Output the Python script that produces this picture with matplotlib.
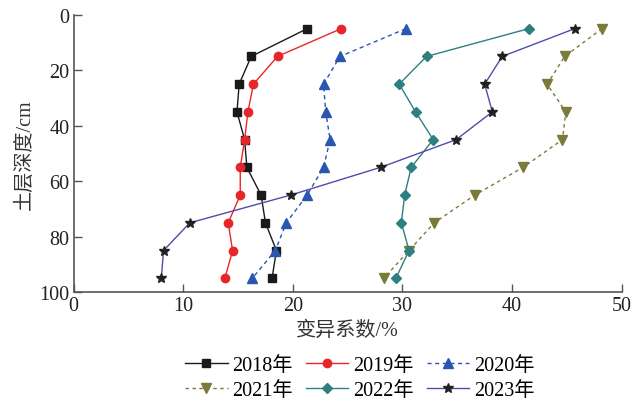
import matplotlib
matplotlib.use("Agg")
import matplotlib.pyplot as plt

plt.rcParams['font.family'] = ['Liberation Serif', 'Noto Sans CJK SC']
plt.rcParams['mathtext.fontset'] = 'stix'

depth = [5, 15, 25, 35, 45, 55, 65, 75, 85, 95]
cv_2018 = [21.3, 16.2, 15.1, 14.9, 15.6, 15.8, 17.1, 17.5, 18.5, 18.1]
cv_2019 = [24.4, 18.6, 16.4, 15.9, 15.6, 15.2, 15.2, 14.1, 14.5, 13.8]
cv_2020 = [30.3, 24.3, 22.8, 23.0, 23.4, 22.8, 21.3, 19.4, 18.4, 16.3]
cv_2021 = [48.2, 44.8, 43.2, 44.9, 44.6, 41.0, 36.6, 32.9, 30.6, 28.3]
cv_2022 = [41.5, 32.2, 29.7, 31.2, 32.8, 30.8, 30.2, 29.9, 30.6, 29.4]
cv_2023 = [45.7, 39.1, 37.5, 38.2, 34.9, 28.0, 19.8, 10.6, 8.2, 8.0]
labels = ['2018年', '2019年', '2020年', '2021年', '2022年', '2023年']
xticks = [0, 10, 20, 30, 40, 50]
yticks = [0, 20, 40, 60, 80, 100]

fig = plt.figure(figsize=(6.35, 4.06), dpi=100)
ax = fig.add_axes([0.116, 0.278, 0.863, 0.683])

fs = 14.5
h = []
h += ax.plot(cv_2018, depth, '-', color='#1a1a1a', marker='s', ms=5.5, lw=1.0, label=labels[0])
h += ax.plot(cv_2019, depth, '-', color='#e8262a', marker='o', ms=6, lw=1.0, label=labels[1])
h += ax.plot(cv_2020, depth, '--', color='#2a56b0', marker='^', ms=6.5, lw=1.0, label=labels[2], dashes=(3, 2.5))
h += ax.plot(cv_2021, depth, '--', color='#7a7a3a', marker='v', ms=6.5, lw=1.0, label=labels[3], dashes=(2.5, 2.5))
h += ax.plot(cv_2022, depth, '-', color='#2e8080', marker='D', ms=5, lw=1.0, label=labels[4])
h += ax.plot(cv_2023, depth, '-', color='#5848a8', marker='*', ms=7.5, mfc='#222222', mec='#222222', lw=1.0, label=labels[5])

ax.set_xlim(0, 50)
ax.set_ylim(100, 0)
ax.set_xticks(xticks)
ax.set_yticks(yticks)
ax.tick_params(direction='in', length=6, width=1, colors='#555555', labelcolor='#222222', labelsize=fs, pad=3)
for s in ['top', 'right']:
    ax.spines[s].set_visible(False)
for s in ['left', 'bottom']:
    ax.spines[s].set_color('#555555')
    ax.spines[s].set_linewidth(1.2)

ax.set_xlabel('变异系数/%', fontsize=fs, color='#333333', labelpad=4)
ax.set_ylabel('土层深度/cm', fontsize=fs, color='#333333', labelpad=3)

order = [0, 3, 1, 4, 2, 5]
fig.legend([h[i] for i in order], [labels[i] for i in order],
           loc='upper center', bbox_to_anchor=(0.567, 0.122), ncol=3, frameon=False,
           fontsize=fs, handlelength=2.1, columnspacing=0.65, handletextpad=0.25,
           labelspacing=0.3, borderaxespad=0, borderpad=0)

fig.savefig('out.png', dpi=100)
